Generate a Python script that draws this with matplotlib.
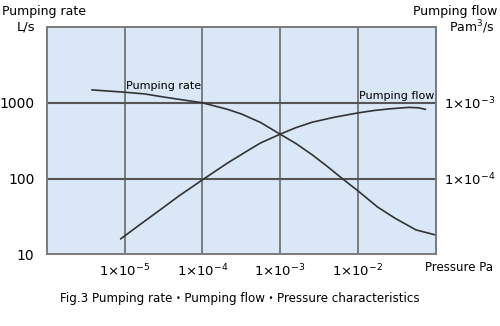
import matplotlib
matplotlib.use("Agg")
import matplotlib.pyplot as plt

# Pumping rate (L/s) versus pressure (Pa)
rate_pressure = [3.8e-6, 1e-5, 1.8e-5, 3.2e-5, 1e-4, 2.1e-4, 3.2e-4, 5.6e-4, 1e-3,
                 1.6e-3, 2.6e-3, 4e-3, 6.3e-3, 1e-2, 1.8e-2, 3e-2, 5.6e-2, 1e-1]
rate_values = [1480, 1380, 1310, 1190, 1000, 820, 710, 550, 385,
               290, 205, 146, 100, 69, 42, 30, 21, 18]

# Pumping flow (Pa m3/s) versus pressure (Pa)
flow_pressure = [8.9e-6, 1.6e-5, 2.8e-5, 5e-5, 1e-4, 2.1e-4, 4e-4, 5.6e-4, 1e-3,
                 1.6e-3, 2.6e-3, 5e-3, 1e-2, 1.6e-2, 2.5e-2, 4.5e-2, 6e-2, 7.4e-2]
flow_values = [1.6e-5, 2.5e-5, 3.8e-5, 5.9e-5, 9.6e-5, 1.6e-4, 2.4e-4, 2.95e-4, 3.85e-4,
               4.7e-4, 5.55e-4, 6.45e-4, 7.35e-4, 7.9e-4, 8.3e-4, 8.7e-4, 8.6e-4, 8.2e-4]

x_ticks = [1e-5, 1e-4, 1e-3, 1e-2]
x_labels = ["1×10$^{-5}$", "1×10$^{-4}$", "1×10$^{-3}$", "1×10$^{-2}$"]
left_ticks = [10, 100, 1000]
left_labels = ["10", "100", "1000"]
right_ticks = [1e-4, 1e-3]
right_labels = ["1×10$^{-4}$", "1×10$^{-3}$"]

plt.rcParams["font.family"] = ["DejaVu Sans", "Noto Sans CJK JP"]
fig = plt.figure(figsize=(5, 3.26), dpi=100)
ax = fig.add_axes([0.094, 0.22, 0.777, 0.697])
ax.set_facecolor("#d9e7f6")
ax.set_xscale("log")
ax.set_yscale("log")
ax.set_xlim(1e-6, 1e-1)
ax.set_ylim(10, 10000)

ax2 = ax.twinx()
ax2.set_yscale("log")
ax2.set_ylim(1e-5, 1e-2)

for a in (ax, ax2):
    for s in a.spines.values():
        s.set_color("#7a7a7a")
        s.set_linewidth(1.2)

ax.set_xticks(x_ticks)
ax.set_xticklabels(x_labels, fontsize=9.5)
ax.set_yticks(left_ticks)
ax.set_yticklabels(left_labels, fontsize=10)
ax.minorticks_off()
ax.tick_params(length=0, pad=9)
ax.tick_params(axis="x", pad=6)
ax2.set_yticks(right_ticks)
ax2.set_yticklabels(right_labels, fontsize=9.5)
ax2.minorticks_off()
ax2.tick_params(length=0, pad=6)

for xv in x_ticks:
    ax.axvline(xv, color="#6a6a6a", lw=1.2, zorder=1)
for yv in [100, 1000]:
    ax.axhline(yv, color="#555555", lw=1.5, zorder=1)

ax.plot(rate_pressure, rate_values, color="#333333", lw=1.2, zorder=3,
        solid_joinstyle="round")
ax2.plot(flow_pressure, flow_values, color="#333333", lw=1.2, zorder=3,
         solid_joinstyle="round")

ax.text(1.05e-5, 1420, "Pumping rate", fontsize=8, va="bottom", ha="left")
ax.text(9.8e-2, 1050, "Pumping flow", fontsize=8, va="bottom", ha="right")

fig.text(0.004, 0.965, "Pumping rate", fontsize=9, va="center", ha="left")
fig.text(0.07, 0.918, "L/s", fontsize=9.5, va="center", ha="right")
fig.text(0.994, 0.965, "Pumping flow", fontsize=9, va="center", ha="right")
fig.text(0.99, 0.918, "Pam$^3$/s", fontsize=9, va="center", ha="right")
fig.text(0.986, 0.178, "Pressure Pa", fontsize=8.5, va="center", ha="right")
fig.text(0.48, 0.085, "Fig.3 Pumping rate・Pumping flow・Pressure characteristics",
         fontsize=8.6, va="center", ha="center")

fig.savefig("out.png", dpi=100)
